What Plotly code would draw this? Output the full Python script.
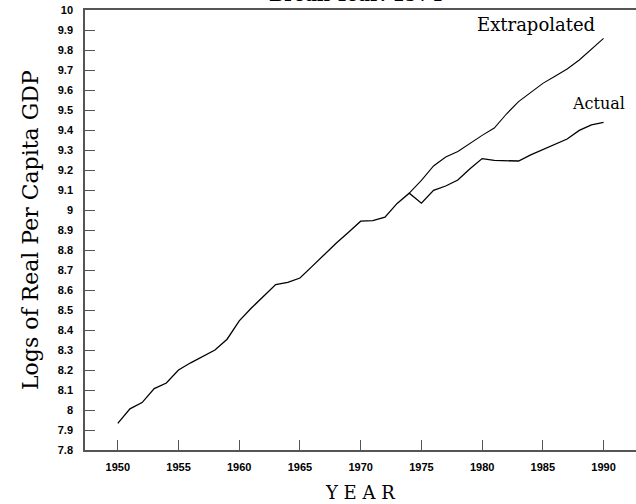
import plotly.graph_objects as go

years_actual = list(range(1950, 1991))
actual = [7.933, 8.006, 8.037, 8.107, 8.135, 8.200, 8.236, 8.267, 8.300, 8.354,
          8.446, 8.510, 8.570, 8.627, 8.638, 8.660, 8.718, 8.778, 8.835, 8.889,
          8.944, 8.947, 8.964, 9.033, 9.084, 9.034, 9.098, 9.120, 9.150, 9.206,
          9.257, 9.248, 9.245, 9.245, 9.276, 9.302, 9.327, 9.355, 9.398, 9.426,
          9.438]

years_extrap = list(range(1974, 1991))
extrapolated = [9.084, 9.148, 9.220, 9.265, 9.293, 9.335, 9.373, 9.410, 9.480,
                9.542, 9.588, 9.633, 9.669, 9.705, 9.750, 9.803, 9.858]

x_ticks = [1950, 1955, 1960, 1965, 1970, 1975, 1980, 1985, 1990]
y_ticks = [7.8, 7.9, 8.0, 8.1, 8.2, 8.3, 8.4, 8.5, 8.6, 8.7, 8.8, 8.9,
           9.0, 9.1, 9.2, 9.3, 9.4, 9.5, 9.6, 9.7, 9.8, 9.9, 10.0]
y_tick_text = ["7.8", "7.9", "8", "8.1", "8.2", "8.3", "8.4", "8.5", "8.6", "8.7",
               "8.8", "8.9", "9", "9.1", "9.2", "9.3", "9.4", "9.5", "9.6", "9.7",
               "9.8", "9.9", "10"]

W, H = 636, 504
L, R, T, B = 85, 0, 10, 54
pw, ph = W - L - R, H - T - B

def px_x(p):
    return (p - L) / pw

def px_y(p):
    return 1 - (p - T) / ph

fig = go.Figure()
fig.add_trace(go.Scatter(x=years_actual, y=actual, mode="lines",
                         line=dict(color="black", width=1.3), name="Actual",
                         showlegend=False))
fig.add_trace(go.Scatter(x=years_extrap, y=extrapolated, mode="lines",
                         line=dict(color="black", width=1.1), name="Extrapolated",
                         showlegend=False))

tickfont = dict(family="Liberation Sans", size=11, color="black", weight="bold")
axcol = "#555555"

fig.update_xaxes(range=[1947.3, 1992.67], tickvals=x_ticks,
                 ticks="inside", ticklen=10, tickwidth=1.2, tickcolor=axcol,
                 showline=True, linecolor=axcol, linewidth=1.5, mirror=True,
                 showgrid=False, zeroline=False, tickfont=tickfont,
                 ticklabelstandoff=6)
fig.update_yaxes(range=[7.8, 10.0], tickvals=y_ticks, ticktext=y_tick_text,
                 ticks="inside", ticklen=10, tickwidth=1.2, tickcolor=axcol,
                 showline=True, linecolor=axcol, linewidth=1.5, mirror=False,
                 showgrid=False, zeroline=False, tickfont=tickfont,
                 ticklabelstandoff=8)

serif = "DejaVu Serif"
annotations = [
    dict(text="Logs of Real Per Capita GDP", x=px_x(30), y=0.5, xref="paper",
         yref="paper", showarrow=False, textangle=-90,
         font=dict(family=serif, size=22, color="black"),
         xanchor="center", yanchor="middle"),
    dict(text="Y E A R", x=px_x(360), y=px_y(492), xref="paper", yref="paper",
         showarrow=False, font=dict(family=serif, size=18, color="black"),
         xanchor="center", yanchor="middle"),
    dict(text="Extrapolated", x=px_x(536), y=px_y(24), xref="paper", yref="paper",
         showarrow=False, font=dict(family=serif, size=18, color="black"),
         xanchor="center", yanchor="middle"),
    dict(text="Actual", x=px_x(598), y=px_y(103), xref="paper", yref="paper",
         showarrow=False, font=dict(family=serif, size=16, color="black"),
         xanchor="center", yanchor="middle"),
    dict(text="<b>Break Year: 1974</b>", x=px_x(355), y=px_y(7), xref="paper",
         yref="paper", showarrow=False,
         font=dict(family=serif, size=18, color="black"),
         xanchor="center", yanchor="bottom"),
]

fig.update_layout(width=W, height=H, margin=dict(l=L, r=R, t=T, b=B),
                  paper_bgcolor="white", plot_bgcolor="white",
                  annotations=annotations, showlegend=False)

fig.write_html("out.html", config={"displayModeBar": False},
               post_script="document.body.style.margin='0';"
                           "document.body.style.overflow='hidden';")
